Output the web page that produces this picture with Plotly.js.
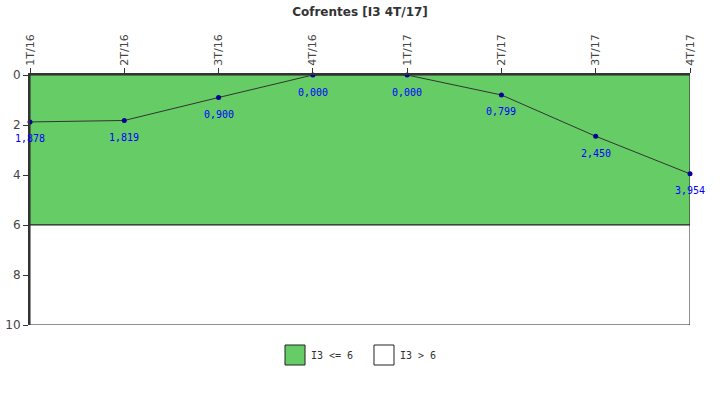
<!DOCTYPE html>
<html>
<head>
<meta charset="utf-8">
<script src="https://cdn.plot.ly/plotly-3.0.1.min.js"></script>
<style>html,body{margin:0;padding:0;background:#fff;}#chart{width:720px;height:400px;}</style>
</head>
<body>
<div id="chart"></div>
<script>
var categories = ["1T/16","2T/16","3T/16","4T/16","1T/17","2T/17","3T/17","4T/17"];
var values = [1.878, 1.819, 0.900, 0.000, 0.000, 0.799, 2.450, 3.954];
var bandNames = ["I3 <= 6", "I3 > 6"];
var bandFrom = [0, 6];
var bandTo = [6, 10];
var bandColors = ["#66cc66", "#ffffff"];

var idx = categories.map(function(_, i){ return i; });
var lastIdx = categories.length - 1;
var mid = lastIdx / 2;

var traces = [];
for (var b = 0; b < bandNames.length; b++) {
  traces.push({
    type: "bar",
    x: [mid],
    y: [bandTo[b] - bandFrom[b]],
    base: [bandFrom[b]],
    width: [lastIdx],
    name: bandNames[b],
    marker: {color: bandColors[b], line: {color: "#222", width: 1}},
    hoverinfo: "skip",
    showlegend: false
  });
}
traces.push({
  type: "scatter",
  mode: "lines+markers",
  x: idx,
  y: values,
  line: {color: "#333", width: 1},
  marker: {color: "#000099", size: 5},
  showlegend: false,
  cliponaxis: false
});

var annotations = values.map(function(v, i){
  return {
    x: idx[i], y: v, xref: "x", yref: "y", showarrow: false,
    text: v.toFixed(3).replace(".", ","), yshift: -17,
    font: {family: "DejaVu Sans Mono", size: 10, color: "#0000ff"}
  };
});

// manual legend (boxes drawn as shapes in paper coordinates)
var shapes = [];
var legX = [0.3864, 0.5212];
var boxW = 20 / 660;
for (var k = 0; k < bandNames.length; k++) {
  shapes.push({
    type: "rect", xref: "paper", yref: "paper",
    x0: legX[k], x1: legX[k] + boxW, y0: -0.08, y1: -0.16,
    fillcolor: bandColors[k], line: {color: "#222", width: 1}
  });
  annotations.push({
    xref: "paper", yref: "paper", x: legX[k] + boxW + 4 / 660, y: -0.12,
    xanchor: "left", yanchor: "middle", showarrow: false, text: bandNames[k],
    font: {family: "DejaVu Sans Mono", size: 10, color: "#333"}
  });
}

var layout = {
  width: 720, height: 400,
  margin: {l: 30, r: 30, t: 75, b: 75},
  paper_bgcolor: "#fff", plot_bgcolor: "#fff",
  title: {text: "Cofrentes [I3 4T/17]", x: 0.5, xanchor: "center", y: 0.98, yanchor: "top",
          font: {family: "DejaVu Sans", size: 12, color: "#333", weight: "bold"}},
  barmode: "overlay",
  xaxis: {
    side: "top", range: [0, lastIdx], tickmode: "array", tickvals: idx, ticktext: categories,
    tickangle: -90, ticks: "outside", ticklen: 5, tickcolor: "#333",
    showgrid: false, zeroline: false, showline: true, linecolor: "#333", linewidth: 2,
    tickfont: {family: "DejaVu Sans", size: 11, color: "#444"}, fixedrange: true
  },
  yaxis: {
    range: [10, 0], tickvals: [0, 2, 4, 6, 8, 10], ticks: "outside", ticklen: 5, tickcolor: "#333",
    showgrid: false, zeroline: false, showline: true, linecolor: "#333", linewidth: 2,
    tickfont: {family: "DejaVu Sans", size: 12, color: "#444"}, fixedrange: true
  },
  shapes: shapes,
  annotations: annotations,
  showlegend: false
};

Plotly.newPlot("chart", traces, layout, {displayModeBar: false, staticPlot: true});
</script>
</body>
</html>
